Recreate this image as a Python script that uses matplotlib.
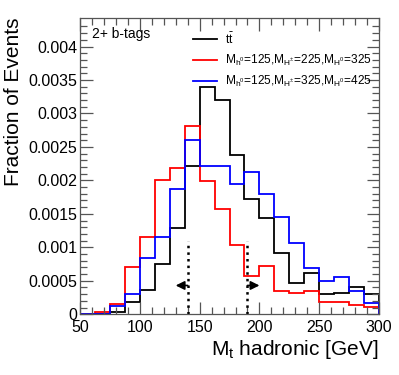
import matplotlib
matplotlib.use('Agg')
import matplotlib.pyplot as plt
import numpy as np

plt.rcParams['font.family'] = ['Liberation Sans', 'DejaVu Sans']
plt.rcParams['mathtext.default'] = 'regular'

# bin edges, 12.5 GeV wide, 50 - 300 GeV
edges = np.linspace(50, 300, 21)

# values
ttbar = [0, 0, 0.00004, 0.00019, 0.00036, 0.00075, 0.00129, 0.00222, 0.00339, 0.00320,
         0.00238, 0.00172, 0.00144, 0.00092, 0.00047, 0.00062, 0.00030, 0.00032, 0.00041, 0.00030]
sig_225 = [0, 0.00004, 0.00015, 0.00071, 0.00115, 0.00201, 0.00219, 0.00281, 0.00199, 0.00157,
           0.00104, 0.00057, 0.00072, 0.00035, 0.00032, 0.00034, 0.00019, 0.00019, 0.00014, 0.00011]
sig_325 = [0, 0.00001, 0.00013, 0.00030, 0.00084, 0.00115, 0.00187, 0.00261, 0.00222, 0.00222,
           0.00194, 0.00212, 0.00180, 0.00146, 0.00106, 0.00069, 0.00049, 0.00055, 0.00035, 0.00017]

labels = [r'$t\bar{t}$',
          r'$M_{h^{0}}$=125,$M_{H^{\pm}}$=225,$M_{H^{0}}$=325',
          r'$M_{h^{0}}$=125,$M_{H^{\pm}}$=325,$M_{H^{0}}$=425']
colors = ['black', '#ff0000', '#0000ff']

# mass window cuts
cut_lo = 140
cut_hi = 190
cut_line_top = 0.00109
arrow_y = 0.00043

fig = plt.figure(figsize=(3.99, 3.75), dpi=100)
ax = fig.add_axes([0.2005, 0.162, 0.7495, 0.79])

for vals, c, lab in zip([ttbar, sig_225, sig_325], colors, labels):
    ax.stairs(vals, edges, color=c, lw=1.3, label=lab)

# cut lines and arrows
for xc, dx in [(cut_lo, -10), (cut_hi, 10)]:
    ax.plot([xc, xc], [0, cut_line_top], color='black', ls=':', lw=1.8)
    ax.annotate('', xy=(xc + dx, arrow_y), xytext=(xc, arrow_y),
                arrowprops=dict(arrowstyle='-|>', color='black', lw=1.2,
                                mutation_scale=13, shrinkA=0, shrinkB=0))

ax.set_xlim(50, 300)
ax.set_ylim(0, 0.004426)
ax.set_xticks(np.arange(50, 301, 50))
ax.set_xticks(np.arange(50, 301, 10), minor=True)
ax.set_yticks(np.arange(0, 0.00401, 0.0005))
ax.set_yticks(np.arange(0, 0.0044, 0.0001), minor=True)
ax.set_yticklabels(['0', '0.0005', '0.001', '0.0015', '0.002', '0.0025', '0.003', '0.0035', '0.004'])

ax.tick_params(which='both', direction='in', top=True, right=True, labelsize=11.5,
               color='#555555')
ax.tick_params(which='major', length=9, width=0.9)
ax.tick_params(which='minor', length=5, width=0.9)
ax.tick_params(axis='x', pad=4)
ax.tick_params(axis='y', pad=2)
for s in ax.spines.values():
    s.set_color('#555555')
    s.set_linewidth(0.9)

ax.set_ylabel('Fraction of Events', fontsize=15, loc='top', labelpad=4)
ax.set_xlabel('M$_{t}$ hadronic [GeV]', fontsize=15, loc='right', labelpad=2)

ax.text(0.04, 0.968, '2+ b-tags', transform=ax.transAxes, fontsize=10, va='top')

ax.legend(loc='upper left', bbox_to_anchor=(0.378, 0.955), frameon=False, fontsize=8.6,
          handlelength=2.0, handletextpad=0.68, labelspacing=0.52, borderpad=0,
          borderaxespad=0)

fig.savefig('out.png', dpi=100)
